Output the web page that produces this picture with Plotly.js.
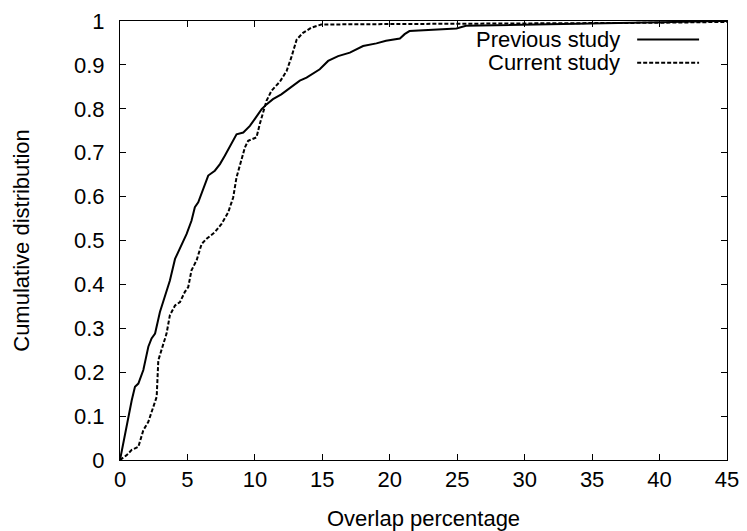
<!DOCTYPE html>
<html>
<head>
<meta charset="utf-8">
<script src="https://cdn.plot.ly/plotly-3.0.1.min.js"></script>
<style>html,body{margin:0;padding:0;background:#fff;}#chart{width:747px;height:531px;}</style>
</head>
<body>
<div id="chart"></div>
<script>
const seriesNames = ["Previous study", "Current study"];
const prevX = [0, 0.61, 0.87, 1.11, 1.36, 1.73, 2.10, 2.34, 2.60, 2.96, 3.33, 3.70, 4.08, 4.57, 4.94, 5.30, 5.55, 5.80, 5.93, 6.17, 6.54, 7.03, 7.41, 7.77, 8.27, 8.64, 9.14, 9.63, 10.0, 10.50, 10.86, 11.34, 11.96, 12.47, 12.84, 13.33, 13.83, 14.81, 15.43, 16.17, 17.04, 18.02, 19.01, 19.72, 20.75, 21.10, 21.46, 23.0, 24.94, 25.65, 30, 35, 40, 44.5, 45];
const prevY = [0, 0.098, 0.136, 0.167, 0.174, 0.205, 0.258, 0.277, 0.288, 0.337, 0.375, 0.409, 0.458, 0.492, 0.515, 0.545, 0.576, 0.587, 0.598, 0.621, 0.648, 0.659, 0.674, 0.693, 0.72, 0.742, 0.746, 0.761, 0.777, 0.799, 0.81, 0.822, 0.833, 0.845, 0.852, 0.864, 0.871, 0.89, 0.909, 0.92, 0.928, 0.943, 0.949, 0.955, 0.96, 0.97, 0.977, 0.98, 0.983, 0.989, 0.991, 0.994, 0.997, 1.0, 1.0];
const currX = [0, 0.49, 0.87, 1.36, 1.73, 2.10, 2.47, 2.72, 2.84, 3.09, 3.45, 3.70, 4.08, 4.45, 4.81, 5.06, 5.30, 5.68, 6.05, 6.42, 7.03, 7.53, 8.02, 8.27, 8.39, 8.64, 8.89, 9.26, 9.50, 10.12, 10.36, 10.62, 10.86, 11.23, 11.86, 12.35, 12.7, 13.1, 13.57, 14.2, 14.92, 20, 30, 40, 45];
const currY = [0, 0.011, 0.023, 0.03, 0.068, 0.087, 0.121, 0.144, 0.227, 0.25, 0.288, 0.33, 0.352, 0.36, 0.383, 0.394, 0.432, 0.455, 0.492, 0.504, 0.519, 0.538, 0.564, 0.587, 0.598, 0.644, 0.674, 0.712, 0.727, 0.735, 0.765, 0.795, 0.818, 0.841, 0.862, 0.886, 0.917, 0.958, 0.973, 0.985, 0.992, 0.993, 0.994, 0.996, 0.998];
const xTickVals = [0, 5, 10, 15, 20, 25, 30, 35, 40, 45];
const yTickVals = [0, 0.1, 0.2, 0.3, 0.4, 0.5, 0.6, 0.7, 0.8, 0.9, 1];
const yTickText = ["0", "0.1", "0.2", "0.3", "0.4", "0.5", "0.6", "0.7", "0.8", "0.9", "1"];
const xTitle = "Overlap percentage";
const yTitle = "Cumulative distribution";

const FONT = "Liberation Sans, Arial, Helvetica, sans-serif";
const FS = 22;

const traces = [
  {x: prevX, y: prevY, type: "scatter", mode: "lines", name: seriesNames[0],
   line: {color: "#000", width: 2, dash: "solid"}},
  {x: currX, y: currY, type: "scatter", mode: "lines", name: seriesNames[1],
   line: {color: "#000", width: 2, dash: "4px,2px"}}
];

const axisCommon = {
  showline: true, linecolor: "#000", linewidth: 1, mirror: "allticks",
  ticks: "inside", ticklen: 6, tickcolor: "#000", tickwidth: 1,
  showgrid: false, zeroline: false, fixedrange: true,
  tickfont: {family: FONT, size: FS, color: "#000"}
};

const layout = {
  width: 747, height: 531,
  margin: {l: 120, r: 20, t: 21, b: 71, pad: 0},
  paper_bgcolor: "#fff", plot_bgcolor: "#fff",
  showlegend: false,
  font: {family: FONT, size: FS, color: "#000"},
  xaxis: Object.assign({}, axisCommon, {
    range: [0, 45], tickmode: "array", tickvals: xTickVals,
    title: {text: xTitle, font: {family: FONT, size: FS, color: "#000"}, standoff: 20},
    automargin: false
  }),
  yaxis: Object.assign({}, axisCommon, {
    range: [0, 1], tickmode: "array", tickvals: yTickVals, ticktext: yTickText,
    ticklabelstandoff: 10,
    title: {text: yTitle, font: {family: FONT, size: FS, color: "#000"}, standoff: 38},
    automargin: false
  }),
  annotations: [
    {xref: "paper", yref: "paper", x: 0.8265, y: 0.958, xanchor: "right", yanchor: "middle",
     text: seriesNames[0], showarrow: false, font: {family: FONT, size: FS, color: "#000"}},
    {xref: "paper", yref: "paper", x: 0.8265, y: 0.905, xanchor: "right", yanchor: "middle",
     text: seriesNames[1], showarrow: false, font: {family: FONT, size: FS, color: "#000"}}
  ],
  shapes: [
    {type: "line", xref: "paper", yref: "paper", x0: 0.852, x1: 0.954, y0: 0.958, y1: 0.958,
     line: {color: "#000", width: 2, dash: "solid"}},
    {type: "line", xref: "paper", yref: "paper", x0: 0.852, x1: 0.954, y0: 0.905, y1: 0.905,
     line: {color: "#000", width: 2, dash: "4px,2px"}}
  ]
};

Plotly.newPlot("chart", traces, layout, {staticPlot: true, displayModeBar: false});
</script>
</body>
</html>
